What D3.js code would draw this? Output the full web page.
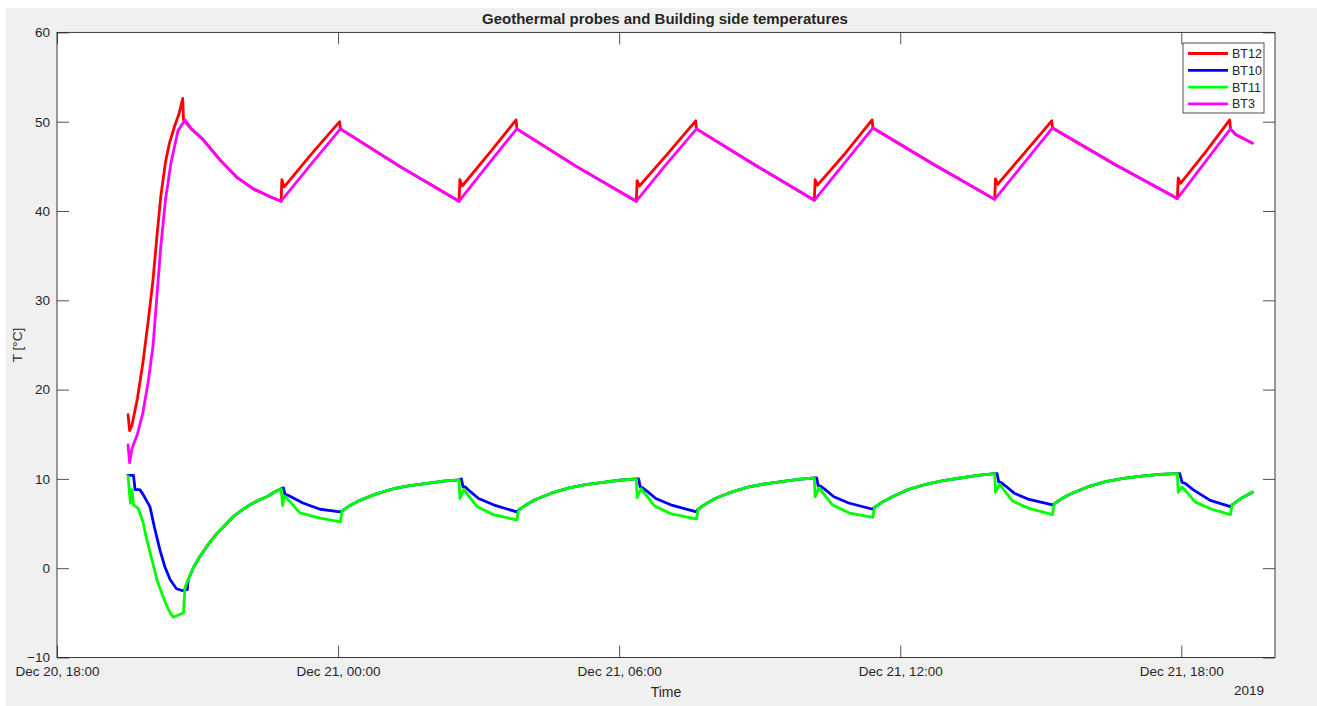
<!DOCTYPE html>
<html>
<head>
<meta charset="utf-8">
<script src="https://cdn.jsdelivr.net/npm/d3@7/dist/d3.min.js"></script>
<style>
  html, body { margin: 0; padding: 0; background: #ffffff; }
  svg { display: block; }
  text { font-family: "Liberation Sans", Arial, Helvetica, sans-serif; fill: #262626; }
</style>
</head>
<body>
<svg id="chart" width="1317" height="706"></svg>
<script>
// Probe temperatures, December 2019. Times are "day HH:MM", values in °C.
const seriesNames = ["BT12", "BT10", "BT11", "BT3"];
const seriesColors = ["#ff0000", "#0000ff", "#00ff00", "#ff00ff"];
const yTickValues = [-10, 0, 10, 20, 30, 40, 50, 60];

const bt12 = [
  ["20 19:31", 17.2], ["20 19:33", 15.4], ["20 19:36", 16.0], ["20 19:43", 19.0],
  ["20 19:50", 23.0], ["20 19:57", 27.8], ["20 20:03", 32.3], ["20 20:08", 37.2],
  ["20 20:13", 41.7], ["20 20:19", 45.5], ["20 20:24", 47.6], ["20 20:31", 49.6],
  ["20 20:36", 50.8], ["20 20:41", 52.6], ["20 20:42", 50.2], ["20 20:52", 49.2],
  ["20 21:07", 48.0], ["20 21:29", 45.7], ["20 21:50", 43.8], ["20 22:11", 42.5],
  ["20 22:33", 41.6], ["20 22:47", 41.1],
  ["20 22:48", 43.5], ["20 22:51", 42.7], ["20 23:26", 46.4], ["21 00:02", 50.0],
  ["21 00:03", 49.2], ["21 01:19", 45.0], ["21 02:35", 41.1],
  ["21 02:36", 43.5], ["21 02:39", 42.8], ["21 03:13", 46.4], ["21 03:48", 50.2],
  ["21 03:49", 49.2], ["21 05:05", 45.0], ["21 06:22", 41.1],
  ["21 06:23", 43.4], ["21 06:26", 42.8], ["21 07:02", 46.4], ["21 07:38", 50.1],
  ["21 07:39", 49.2], ["21 08:55", 45.1], ["21 10:10", 41.2],
  ["21 10:11", 43.5], ["21 10:14", 42.9], ["21 10:50", 46.5], ["21 11:24", 50.2],
  ["21 11:25", 49.3], ["21 12:43", 45.2], ["21 14:01", 41.3],
  ["21 14:02", 43.6], ["21 14:05", 43.0], ["21 14:40", 46.6], ["21 15:14", 50.1],
  ["21 15:15", 49.3], ["21 16:35", 45.2], ["21 17:55", 41.4],
  ["21 17:56", 43.7], ["21 17:59", 43.1], ["21 18:31", 46.6], ["21 19:02", 50.2],
  ["21 19:03", 49.2], ["21 19:09", 48.6], ["21 19:31", 47.6]
];

const bt10 = [
  ["20 19:31", 10.4], ["20 19:38", 10.4], ["20 19:40", 8.8], ["20 19:46", 8.8],
  ["20 19:50", 8.3], ["20 19:59", 6.9], ["20 20:05", 4.5], ["20 20:12", 2.0],
  ["20 20:18", 0.2], ["20 20:25", -1.3], ["20 20:33", -2.3], ["20 20:40", -2.5],
  ["20 20:47", -2.4], ["20 20:48", -1.3], ["20 20:55", 0.1], ["20 21:03", 1.3],
  ["20 21:14", 2.7], ["20 21:25", 3.9], ["20 21:36", 4.9], ["20 21:46", 5.8],
  ["20 21:57", 6.5], ["20 22:07", 7.1], ["20 22:18", 7.6], ["20 22:29", 8.0],
  ["20 22:38", 8.5], ["20 22:47", 8.9],
  ["20 22:50", 9.0], ["20 22:52", 8.3], ["20 22:55", 8.2], ["20 23:02", 7.9],
  ["20 23:15", 7.3], ["20 23:37", 6.6], ["21 00:03", 6.3],
  ["21 00:05", 6.4], ["21 00:15", 7.0], ["21 00:28", 7.6], ["21 00:48", 8.3],
  ["21 01:11", 8.9], ["21 01:32", 9.25], ["21 01:54", 9.5], ["21 02:15", 9.75], ["21 02:35", 9.9],
  ["21 02:38", 10.0], ["21 02:40", 9.1], ["21 02:43", 9.1], ["21 02:49", 8.6],
  ["21 03:00", 7.8], ["21 03:19", 7.1], ["21 03:49", 6.3],
  ["21 03:51", 6.5], ["21 04:01", 7.1], ["21 04:13", 7.7], ["21 04:33", 8.4],
  ["21 04:56", 9.0], ["21 05:17", 9.35], ["21 05:39", 9.6], ["21 06:00", 9.85], ["21 06:22", 10.0],
  ["21 06:25", 10.0], ["21 06:27", 9.1], ["21 06:30", 9.0], ["21 06:36", 8.6],
  ["21 06:47", 7.8], ["21 07:06", 7.1], ["21 07:39", 6.3],
  ["21 07:41", 6.6], ["21 07:51", 7.2], ["21 08:03", 7.8], ["21 08:23", 8.5],
  ["21 08:46", 9.1], ["21 09:07", 9.45], ["21 09:28", 9.7], ["21 09:49", 9.95], ["21 10:10", 10.1],
  ["21 10:13", 10.1], ["21 10:15", 9.2], ["21 10:18", 9.2], ["21 10:24", 8.8],
  ["21 10:35", 8.0], ["21 10:54", 7.3], ["21 11:25", 6.6],
  ["21 11:27", 6.8], ["21 11:37", 7.4], ["21 11:50", 8.0], ["21 12:10", 8.8],
  ["21 12:33", 9.4], ["21 12:55", 9.8], ["21 13:17", 10.1], ["21 13:39", 10.4], ["21 14:01", 10.6],
  ["21 14:04", 10.6], ["21 14:06", 9.7], ["21 14:09", 9.6], ["21 14:15", 9.2],
  ["21 14:26", 8.4], ["21 14:45", 7.7], ["21 15:15", 7.1],
  ["21 15:17", 7.2], ["21 15:27", 7.8], ["21 15:40", 8.4], ["21 16:00", 9.1],
  ["21 16:23", 9.7], ["21 16:46", 10.05], ["21 17:09", 10.3], ["21 17:32", 10.5], ["21 17:55", 10.6],
  ["21 17:58", 10.6], ["21 18:01", 9.6], ["21 18:05", 9.5], ["21 18:15", 8.8],
  ["21 18:37", 7.6], ["21 19:03", 6.9],
  ["21 19:05", 7.1], ["21 19:18", 7.9], ["21 19:31", 8.5]
];

const bt11 = [
  ["20 19:31", 10.3], ["20 19:34", 7.3], ["20 19:36", 8.8], ["20 19:38", 7.1],
  ["20 19:44", 6.7], ["20 19:50", 5.2], ["20 19:55", 3.2], ["20 20:02", 0.8],
  ["20 20:08", -1.3], ["20 20:15", -3.0], ["20 20:21", -4.3], ["20 20:25", -5.0],
  ["20 20:29", -5.5], ["20 20:34", -5.3], ["20 20:42", -5.0], ["20 20:44", -2.1],
  ["20 20:48", -1.3], ["20 20:55", 0.1], ["20 21:03", 1.3], ["20 21:14", 2.7],
  ["20 21:25", 3.9], ["20 21:36", 4.9], ["20 21:46", 5.8], ["20 21:57", 6.5],
  ["20 22:07", 7.1], ["20 22:18", 7.6], ["20 22:29", 8.0], ["20 22:38", 8.5], ["20 22:47", 8.9],
  ["20 22:49", 7.0], ["20 22:51", 8.1], ["20 22:59", 7.4], ["20 23:11", 6.2],
  ["20 23:37", 5.6], ["21 00:03", 5.2],
  ["21 00:05", 6.4], ["21 00:15", 7.0], ["21 00:28", 7.6], ["21 00:48", 8.3],
  ["21 01:11", 8.9], ["21 01:32", 9.25], ["21 01:54", 9.5], ["21 02:15", 9.75], ["21 02:35", 9.9],
  ["21 02:36", 7.8], ["21 02:41", 8.8], ["21 02:58", 6.9], ["21 03:19", 6.0], ["21 03:49", 5.4],
  ["21 03:51", 6.5], ["21 04:01", 7.1], ["21 04:13", 7.7], ["21 04:33", 8.4],
  ["21 04:56", 9.0], ["21 05:17", 9.35], ["21 05:39", 9.6], ["21 06:00", 9.85], ["21 06:22", 10.0],
  ["21 06:23", 7.9], ["21 06:28", 8.9], ["21 06:45", 7.0], ["21 07:06", 6.1], ["21 07:39", 5.5],
  ["21 07:41", 6.6], ["21 07:51", 7.2], ["21 08:03", 7.8], ["21 08:23", 8.5],
  ["21 08:46", 9.1], ["21 09:07", 9.45], ["21 09:28", 9.7], ["21 09:49", 9.95], ["21 10:10", 10.1],
  ["21 10:11", 8.0], ["21 10:16", 9.0], ["21 10:33", 7.1], ["21 10:54", 6.2], ["21 11:25", 5.7],
  ["21 11:27", 6.8], ["21 11:37", 7.4], ["21 11:50", 8.0], ["21 12:10", 8.8],
  ["21 12:33", 9.4], ["21 12:55", 9.8], ["21 13:17", 10.1], ["21 13:39", 10.4], ["21 14:01", 10.6],
  ["21 14:02", 8.5], ["21 14:07", 9.4], ["21 14:24", 7.5], ["21 14:45", 6.7], ["21 15:15", 6.0],
  ["21 15:17", 7.2], ["21 15:27", 7.8], ["21 15:40", 8.4], ["21 16:00", 9.1],
  ["21 16:23", 9.7], ["21 16:46", 10.05], ["21 17:09", 10.3], ["21 17:32", 10.5], ["21 17:55", 10.6],
  ["21 17:56", 8.5], ["21 18:01", 9.1], ["21 18:18", 7.4], ["21 18:39", 6.6], ["21 19:03", 6.0],
  ["21 19:05", 7.1], ["21 19:18", 7.9], ["21 19:31", 8.5]
];

const bt3 = [
  ["20 19:31", 13.8], ["20 19:33", 11.8], ["20 19:36", 13.4], ["20 19:43", 15.0],
  ["20 19:50", 17.4], ["20 19:57", 21.0], ["20 20:03", 24.9], ["20 20:08", 30.5],
  ["20 20:13", 36.1], ["20 20:19", 41.3], ["20 20:26", 45.4], ["20 20:35", 49.0],
  ["20 20:44", 50.2], ["20 20:52", 49.2], ["20 21:07", 48.0], ["20 21:29", 45.7],
  ["20 21:50", 43.8], ["20 22:11", 42.5], ["20 22:33", 41.6], ["20 22:47", 41.1],
  ["20 23:25", 45.2], ["21 00:03", 49.2], ["21 01:19", 45.0], ["21 02:35", 41.1],
  ["21 03:12", 45.2], ["21 03:49", 49.2], ["21 05:05", 45.0], ["21 06:22", 41.1],
  ["21 07:00", 45.2], ["21 07:39", 49.2], ["21 08:55", 45.1], ["21 10:10", 41.2],
  ["21 10:48", 45.3], ["21 11:25", 49.3], ["21 12:43", 45.2], ["21 14:01", 41.3],
  ["21 14:38", 45.3], ["21 15:15", 49.3], ["21 16:35", 45.2], ["21 17:55", 41.4],
  ["21 18:29", 45.3], ["21 19:03", 49.2], ["21 19:09", 48.6], ["21 19:31", 47.6]
];

const seriesData = [bt12, bt10, bt11, bt3];

const parseTime = s => d3.timeParse("%Y-%m-%d %H:%M")("2019-12-" + s);
const timeDomain = ["20 18:00", "21 20:00"];

const W = 1317, H = 706;
const plot = { left: 57, right: 1275, top: 32.4, bottom: 657.5 };

const svg = d3.select("#chart");

// Figure background
svg.append("rect").attr("x", 6).attr("y", 8).attr("width", W - 6).attr("height", H - 8)
  .attr("fill", "#f0f0f0");

// Axes background
svg.append("rect")
  .attr("x", plot.left).attr("y", plot.top)
  .attr("width", plot.right - plot.left).attr("height", plot.bottom - plot.top)
  .attr("fill", "#ffffff");

const x = d3.scaleTime()
  .domain(timeDomain.map(parseTime))
  .range([plot.left, plot.right]);

const y = d3.scaleLinear()
  .domain([-10, 60])
  .range([plot.bottom, plot.top]);

const tickLen = 12;
const xTicks = x.ticks(d3.timeHour.every(6));
const fmt = d3.timeFormat("%b %d, %H:%M");

function styleAxis(g) {
  g.select(".domain").remove();
  g.selectAll(".tick line").attr("stroke", "#262626").attr("stroke-width", 0.8);
  g.selectAll(".tick text").attr("font-size", 13.5).attr("fill", "#262626");
}

// Bottom axis with labels
svg.append("g")
  .attr("transform", `translate(0,${plot.bottom})`)
  .call(d3.axisBottom(x).tickValues(xTicks).tickFormat(fmt).tickSize(-tickLen).tickPadding(9))
  .call(styleAxis);

// Top axis, ticks only
svg.append("g")
  .attr("transform", `translate(0,${plot.top})`)
  .call(d3.axisTop(x).tickValues(xTicks).tickFormat("").tickSize(-tickLen))
  .call(styleAxis);

// Left axis with labels
svg.append("g")
  .attr("transform", `translate(${plot.left},0)`)
  .call(d3.axisLeft(y).tickValues(yTickValues).tickSize(-tickLen).tickPadding(7))
  .call(styleAxis);

// Right axis, ticks only
svg.append("g")
  .attr("transform", `translate(${plot.right},0)`)
  .call(d3.axisRight(y).tickValues(yTickValues).tickFormat("").tickSize(-tickLen))
  .call(styleAxis);

// Series lines
const line = d3.line()
  .x(d => x(parseTime(d[0])))
  .y(d => y(d[1]));

svg.append("g")
  .selectAll("path")
  .data(seriesData)
  .join("path")
  .attr("d", line)
  .attr("fill", "none")
  .attr("stroke", (d, i) => seriesColors[i])
  .attr("stroke-width", 2.8)
  .attr("stroke-linejoin", "round")
  .attr("stroke-linecap", "round");

// Axes box
svg.append("rect")
  .attr("x", plot.left).attr("y", plot.top)
  .attr("width", plot.right - plot.left).attr("height", plot.bottom - plot.top)
  .attr("fill", "none").attr("stroke", "#262626").attr("stroke-width", 0.9);

// Title
svg.append("text")
  .attr("x", 665).attr("y", 24)
  .attr("text-anchor", "middle")
  .attr("font-size", 15).attr("font-weight", "bold")
  .attr("fill", "#000000")
  .text("Geothermal probes and Building side temperatures");

// Axis labels
svg.append("text")
  .attr("x", 666).attr("y", 697)
  .attr("text-anchor", "middle").attr("font-size", 14)
  .text("Time");

svg.append("text")
  .attr("x", plot.right - 11).attr("y", 695)
  .attr("text-anchor", "end").attr("font-size", 13.5)
  .text("2019");

svg.append("text")
  .attr("transform", `translate(22,${(plot.top + plot.bottom) / 2}) rotate(-90)`)
  .attr("text-anchor", "middle").attr("font-size", 13.5)
  .text("T [°C]");

// Legend
const legend = { x: 1183, y: 43, w: 81, h: 70, row: 16.8 };
const lg = svg.append("g");
lg.append("rect")
  .attr("x", legend.x).attr("y", legend.y)
  .attr("width", legend.w).attr("height", legend.h)
  .attr("fill", "#ffffff").attr("stroke", "#262626").attr("stroke-width", 0.8);

const rows = lg.selectAll("g.row")
  .data(seriesNames)
  .join("g")
  .attr("class", "row")
  .attr("transform", (d, i) => `translate(${legend.x},${legend.y + 10.5 + i * legend.row})`);

rows.append("line")
  .attr("x1", 5).attr("x2", 45).attr("y1", 0).attr("y2", 0)
  .attr("stroke", (d, i) => seriesColors[i]).attr("stroke-width", 2.8);

rows.append("text")
  .attr("x", 49).attr("y", 4.5)
  .attr("font-size", 12.5)
  .text(d => d);
</script>
</body>
</html>
